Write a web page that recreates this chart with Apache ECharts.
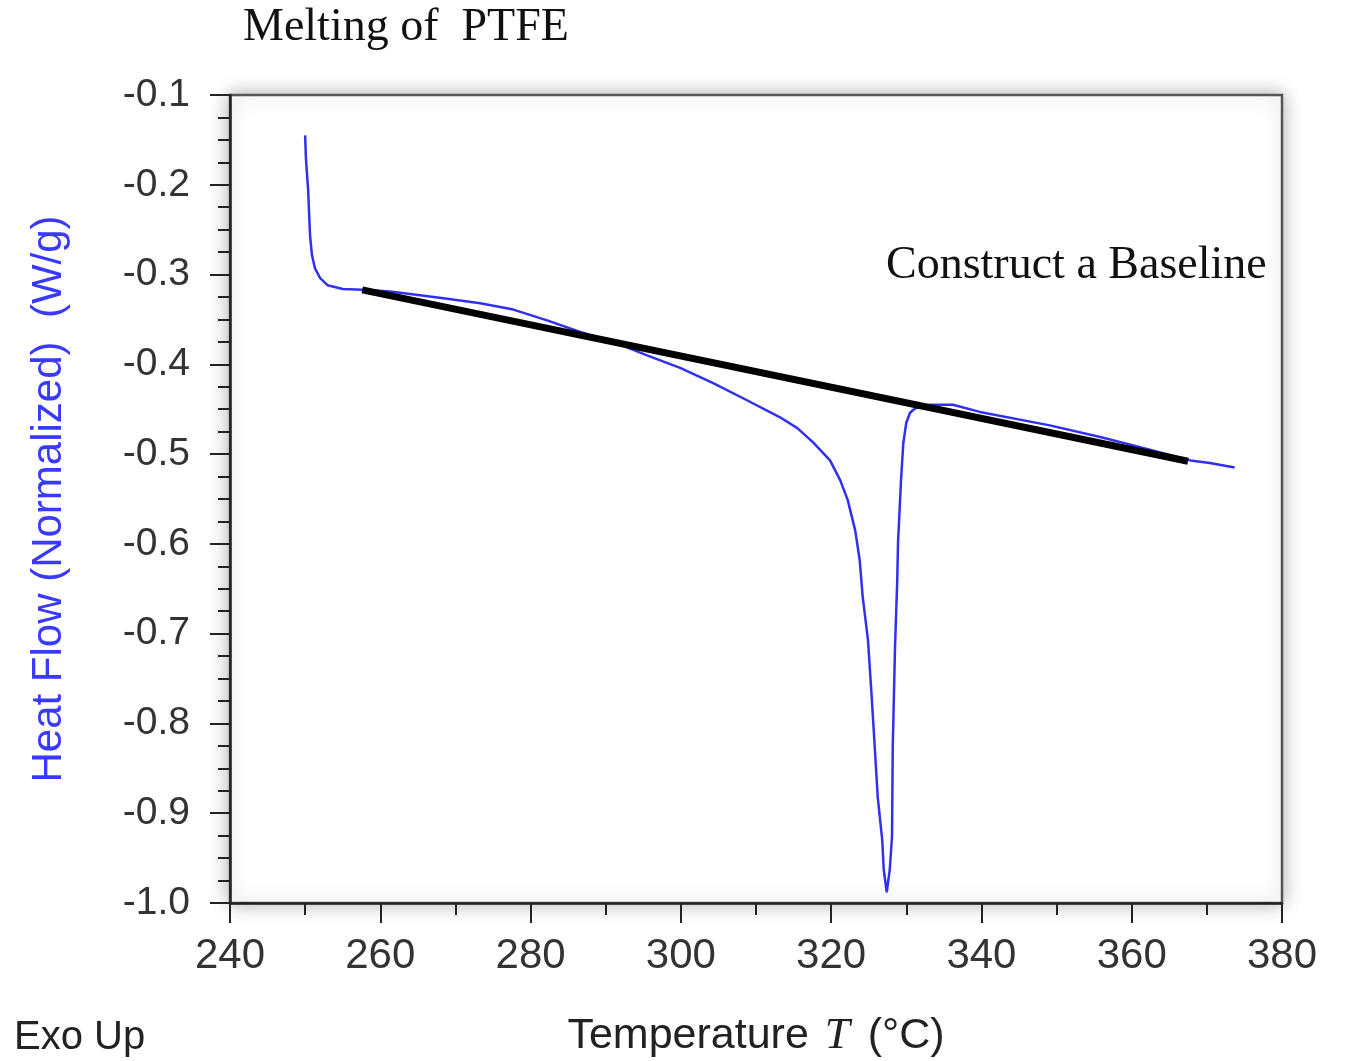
<!DOCTYPE html>
<html>
<head>
<meta charset="utf-8"/>
<title>Melting of PTFE</title>
<script src="https://cdn.jsdelivr.net/npm/echarts@6/dist/echarts.min.js"></script>
<style>
html,body{margin:0;padding:0;background:#fff;}
#main{width:1347px;height:1061px;}
</style>
</head>
<body>
<div id="main"></div>
<script>
// DSC curve: temperature (°C) and heat flow (W/g)
var temps = [250.0, 250.1, 250.4, 250.65, 250.9, 251.3, 252.0, 253.0, 255.0, 257.7,
    261.3, 265.3, 268.9, 273.3, 277.7, 282.2, 286.6, 291.0, 295.5, 299.9,
    304.3, 308.8, 313.2, 315.5, 317.6, 319.85, 321.2, 322.2, 323.2, 323.8,
    324.2, 324.9, 325.4, 325.8, 326.2, 326.8, 327.0, 327.4, 327.8, 328.1,
    328.2, 328.5, 328.8, 328.9, 329.3, 329.6, 330.0, 330.5, 331.2, 333.2,
    336.2, 339.8, 349.1, 355.8, 362.4, 367.8, 370.4, 373.7];
var heatFlow = [-0.145, -0.170, -0.206, -0.256, -0.278, -0.293, -0.304, -0.312, -0.316, -0.317,
    -0.319, -0.323, -0.327, -0.332, -0.339, -0.351, -0.364, -0.375, -0.390, -0.404,
    -0.421, -0.440, -0.459, -0.471, -0.487, -0.507, -0.529, -0.551, -0.585, -0.618,
    -0.659, -0.707, -0.771, -0.826, -0.882, -0.930, -0.963, -0.988, -0.963, -0.926,
    -0.826, -0.715, -0.640, -0.599, -0.529, -0.488, -0.465, -0.454, -0.449, -0.445,
    -0.445, -0.453, -0.468, -0.481, -0.495, -0.507, -0.510, -0.515];

// hand-drawn baseline, two end points
var baseTemps = [257.6, 367.5];
var baseFlow = [-0.317, -0.508];

var curve = [];
for (var i = 0; i < temps.length; i++) {
    curve.push([temps[i], heatFlow[i]]);
}
var baseline = [];
for (i = 0; i < baseTemps.length; i++) {
    baseline.push([baseTemps[i], baseFlow[i]]);
}

var myChart = echarts.init(document.getElementById('main'));

var option = {
    backgroundColor: '#fff',
    animation: false,
    grid: {
        left: 230, right: 65, top: 95, bottom: 158,
        outerBoundsMode: 'none',
        containLabel: false,
        show: true,
        backgroundColor: '#fff',
        borderColor: '#555',
        borderWidth: 2.5,
        shadowColor: 'rgba(0,0,0,0.3)',
        shadowBlur: 18
    },
    xAxis: {
        type: 'value',
        min: 240, max: 380, interval: 20,
        name: '{a|Temperature }{t|T}{a| (°C)}',
        nameLocation: 'middle',
        nameGap: 111,
        nameTextStyle: {
            rich: {
                a: {fontFamily: 'Liberation Sans', fontSize: 43, color: '#222'},
                t: {fontFamily: 'Liberation Serif', fontStyle: 'italic', fontSize: 45, color: '#222', padding: [0, 6, 0, 4]}
            }
        },
        axisLine: {onZero: false, lineStyle: {color: '#222', width: 2.5}},
        axisTick: {length: 20, lineStyle: {color: '#222', width: 2}},
        minorTick: {show: true, splitNumber: 2, length: 12, lineStyle: {color: '#222', width: 2}},
        splitLine: {show: false},
        axisLabel: {margin: 32, fontFamily: 'Liberation Sans', fontSize: 42, color: '#333'}
    },
    yAxis: {
        type: 'value',
        min: -1.0, max: -0.1, interval: 0.1,
        name: 'Heat Flow (Normalized)  (W/g)',
        nameLocation: 'middle',
        nameGap: 160,
        nameTextStyle: {fontFamily: 'Liberation Sans', fontSize: 42, color: '#3a3aff'},
        axisLine: {show: true, onZero: false, lineStyle: {color: '#222', width: 2.5}},
        axisTick: {length: 20, lineStyle: {color: '#222', width: 2}},
        minorTick: {show: true, splitNumber: 4, length: 12, lineStyle: {color: '#222', width: 2}},
        splitLine: {show: false},
        axisLabel: {
            margin: 40, fontFamily: 'Liberation Sans', fontSize: 39, color: '#333',
            formatter: function (v) { return v.toFixed(1); }
        }
    },
    series: [
        {
            name: 'Heat Flow',
            type: 'line',
            data: curve,
            showSymbol: false,
            symbol: 'none',
            lineStyle: {color: '#3030ee', width: 2.5},
            z: 2
        },
        {
            name: 'Baseline',
            type: 'line',
            data: baseline,
            showSymbol: false,
            symbol: 'none',
            lineStyle: {color: '#000', width: 7},
            z: 3
        }
    ],
    graphic: [
        {
            type: 'text', left: 243, top: 5,
            style: {text: 'Melting of  PTFE', fontFamily: 'Liberation Serif', fontSize: 46, fill: '#111'}
        },
        {
            type: 'text', left: 886, top: 243,
            style: {text: 'Construct a Baseline', fontFamily: 'Liberation Serif', fontSize: 46, fill: '#111'}
        },
        {
            type: 'text', left: 14, top: 1018,
            style: {text: 'Exo Up', fontFamily: 'Liberation Sans', fontSize: 40, fill: '#222'}
        }
    ]
};

myChart.setOption(option);
</script>
</body>
</html>
